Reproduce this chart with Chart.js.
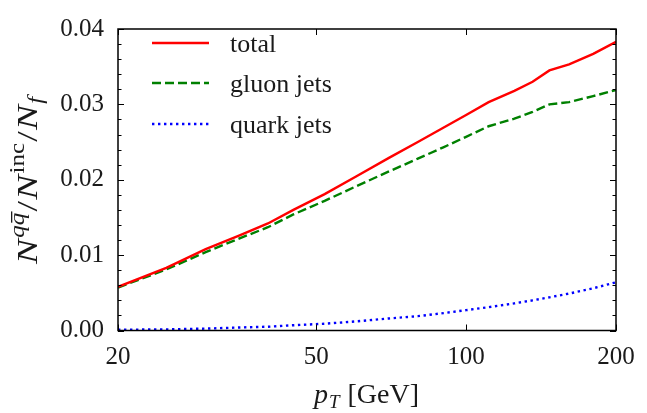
<!DOCTYPE html>
<html>
<head>
<meta charset="utf-8">
<script src="https://cdn.jsdelivr.net/npm/chart.js@4.4.0/dist/chart.umd.min.js"></script>
<style>
  html, body { margin: 0; padding: 0; background: #fff; }
</style>
</head>
<body>
<canvas id="chart" width="647" height="413"></canvas>
<script>
// p_T grid (GeV) and the three curves
const ptValues    = [20, 25, 30, 35, 40, 45, 52, 60, 70, 80, 90, 100, 111, 125, 136, 147, 161, 180, 200];
const totalValues = [0.0058, 0.0083, 0.0108, 0.0126, 0.0142, 0.0160, 0.0181, 0.0204, 0.0229, 0.0250, 0.0269, 0.0286, 0.0303, 0.0318, 0.0330, 0.0345, 0.0353, 0.0367, 0.0383];
const gluonValues = [0.0057, 0.0081, 0.0104, 0.0122, 0.0137, 0.0154, 0.0172, 0.0191, 0.0211, 0.0228, 0.0243, 0.0257, 0.0271, 0.0281, 0.0290, 0.0300, 0.0303, 0.0311, 0.0319];
const quarkValues = [0.0001, 0.00015, 0.00025, 0.0004, 0.0005, 0.0007, 0.0009, 0.0012, 0.0016, 0.0019, 0.0023, 0.0027, 0.0031, 0.0036, 0.0040, 0.0044, 0.0049, 0.0056, 0.0064];
const seriesLabels = ['total', 'gluon jets', 'quark jets'];

const xTickValues = [20, 50, 100, 200];
const yTickValues = [0, 0.01, 0.02, 0.03, 0.04];
const yMinorStep = 0.002;

const FONT = "'Liberation Serif', 'DejaVu Serif', serif";
const TEXT = '#1a1a1a';

function toPoints(values) {
    return ptValues.map((x, i) => ({ x: x, y: values[i] }));
}

// Marco completo y ticks hacia dentro en los cuatro lados
const frameTicksPlugin = {
    id: 'frameTicks',
    afterDatasetsDraw(chart) {
        const { ctx, chartArea: a, scales } = chart;
        ctx.save();
        ctx.strokeStyle = '#000';
        ctx.lineWidth = 1;
        ctx.beginPath();
        yTickValues.forEach(v => {
            const y = Math.round(scales.y.getPixelForValue(v)) + 0.5;
            ctx.moveTo(a.left, y); ctx.lineTo(a.left + 6, y);
            ctx.moveTo(a.right, y); ctx.lineTo(a.right - 6, y);
        });
        for (let v = 0; v < 0.0401; v += yMinorStep) {
            const y = Math.round(scales.y.getPixelForValue(v)) + 0.5;
            ctx.moveTo(a.left, y); ctx.lineTo(a.left + 3.5, y);
            ctx.moveTo(a.right, y); ctx.lineTo(a.right - 3.5, y);
        }
        xTickValues.forEach(v => {
            const x = Math.round(scales.x.getPixelForValue(v)) + 0.5;
            ctx.moveTo(x, a.bottom); ctx.lineTo(x, a.bottom - 6);
            ctx.moveTo(x, a.top); ctx.lineTo(x, a.top + 6);
        });
        ctx.stroke();
        ctx.lineWidth = 1.5;
        ctx.strokeRect(a.left, a.top, a.right - a.left, a.bottom - a.top);
        ctx.restore();
    }
};

// Leyenda y titulos de ejes con sub/superindices
const labelsPlugin = {
    id: 'labels',
    afterDraw(chart) {
        const { ctx, chartArea: a } = chart;
        ctx.save();

        // leyenda
        const rows = [43, 83, 124];
        chart.data.datasets.forEach((ds, i) => {
            ctx.strokeStyle = ds.borderColor;
            ctx.lineWidth = ds.borderWidth;
            ctx.setLineDash(ds.borderDash || []);
            ctx.beginPath();
            ctx.moveTo(152, rows[i]);
            ctx.lineTo(209, rows[i]);
            ctx.stroke();
            ctx.setLineDash([]);
            ctx.fillStyle = TEXT;
            ctx.font = '26px ' + FONT;
            ctx.textBaseline = 'alphabetic';
            ctx.textAlign = 'left';
            ctx.fillText(ds.label, 230, rows[i] + 9);
        });

        // titulo eje x: p_T [GeV]
        ctx.fillStyle = TEXT;
        ctx.textBaseline = 'alphabetic';
        const xParts = [
            { t: 'p', f: 'italic 28px ' + FONT, dy: 0 },
            { t: 'T', f: 'italic 19px ' + FONT, dy: 5 },
            { t: ' [GeV]', f: '28px ' + FONT, dy: 0 }
        ];
        drawParts(ctx, xParts, (a.left + a.right) / 2, 403);

        // titulo eje y: N^{q qbar}/N^{inc}/N_f (rotado)
        ctx.translate(37, (a.top + a.bottom) / 2);
        ctx.rotate(-Math.PI / 2);
        ctx.scale(1.25, 1);
        const yParts = [
            { t: 'N', f: 'italic 30px ' + FONT, dy: 0 },
            { t: 'qq', f: 'italic 20px ' + FONT, dy: -13, bar: true },
            { t: '/', f: '30px ' + FONT, dy: 0 },
            { t: 'N', f: 'italic 30px ' + FONT, dy: 0 },
            { t: 'inc', f: '20px ' + FONT, dy: -13 },
            { t: '/', f: '30px ' + FONT, dy: 0 },
            { t: 'N', f: 'italic 30px ' + FONT, dy: 0 },
            { t: 'f', f: 'italic 20px ' + FONT, dy: 5 }
        ];
        drawParts(ctx, yParts, 0, 0);
        ctx.restore();
    }
};

function drawParts(ctx, parts, cx, baseline) {
    let total = 0;
    parts.forEach(p => { ctx.font = p.f; total += ctx.measureText(p.t).width + 1; });
    let x = cx - total / 2;
    ctx.textAlign = 'left';
    parts.forEach(p => {
        ctx.font = p.f;
        ctx.fillText(p.t, x, baseline + p.dy);
        const w = ctx.measureText(p.t).width;
        if (p.bar) {
            const half = ctx.measureText('q').width;
            ctx.fillRect(x + half + 2, baseline + p.dy - 13, half - 1, 1.3);
        }
        x += w + 1;
    });
}

const ctx = document.getElementById('chart').getContext('2d');
new Chart(ctx, {
    type: 'line',
    data: {
        datasets: [
            { label: seriesLabels[0], data: toPoints(totalValues), borderColor: '#ff0000', borderWidth: 2.4, pointRadius: 0, fill: false },
            { label: seriesLabels[1], data: toPoints(gluonValues), borderColor: '#008000', borderWidth: 2.4, borderDash: [9, 4], pointRadius: 0, fill: false },
            { label: seriesLabels[2], data: toPoints(quarkValues), borderColor: '#0000ff', borderWidth: 2.4, borderDash: [2.4, 3.6], pointRadius: 0, fill: false }
        ]
    },
    options: {
        responsive: false,
        animation: false,
        layout: { padding: { top: 18, right: 31, left: 0, bottom: 0 } },
        scales: {
            x: {
                type: 'logarithmic',
                min: 20,
                max: 200,
                afterBuildTicks: scale => { scale.ticks = xTickValues.map(v => ({ value: v })); },
                afterFit: scale => { scale.height = 82.5; },
                grid: { display: false, drawTicks: false },
                border: { display: false },
                ticks: {
                    autoSkip: false,
                    maxRotation: 0,
                    padding: 12,
                    color: TEXT,
                    font: { family: FONT, size: 25 },
                    callback: v => String(v)
                }
            },
            y: {
                min: 0,
                max: 0.04,
                afterBuildTicks: scale => { scale.ticks = yTickValues.map(v => ({ value: v })); },
                afterFit: scale => { scale.width = 118; },
                grid: { display: false, drawTicks: false },
                border: { display: false },
                ticks: {
                    padding: 14,
                    color: TEXT,
                    font: { family: FONT, size: 25 },
                    callback: v => v.toFixed(2)
                }
            }
        },
        plugins: {
            legend: { display: false },
            tooltip: { enabled: false }
        }
    },
    plugins: [frameTicksPlugin, labelsPlugin]
});
</script>
</body>
</html>
